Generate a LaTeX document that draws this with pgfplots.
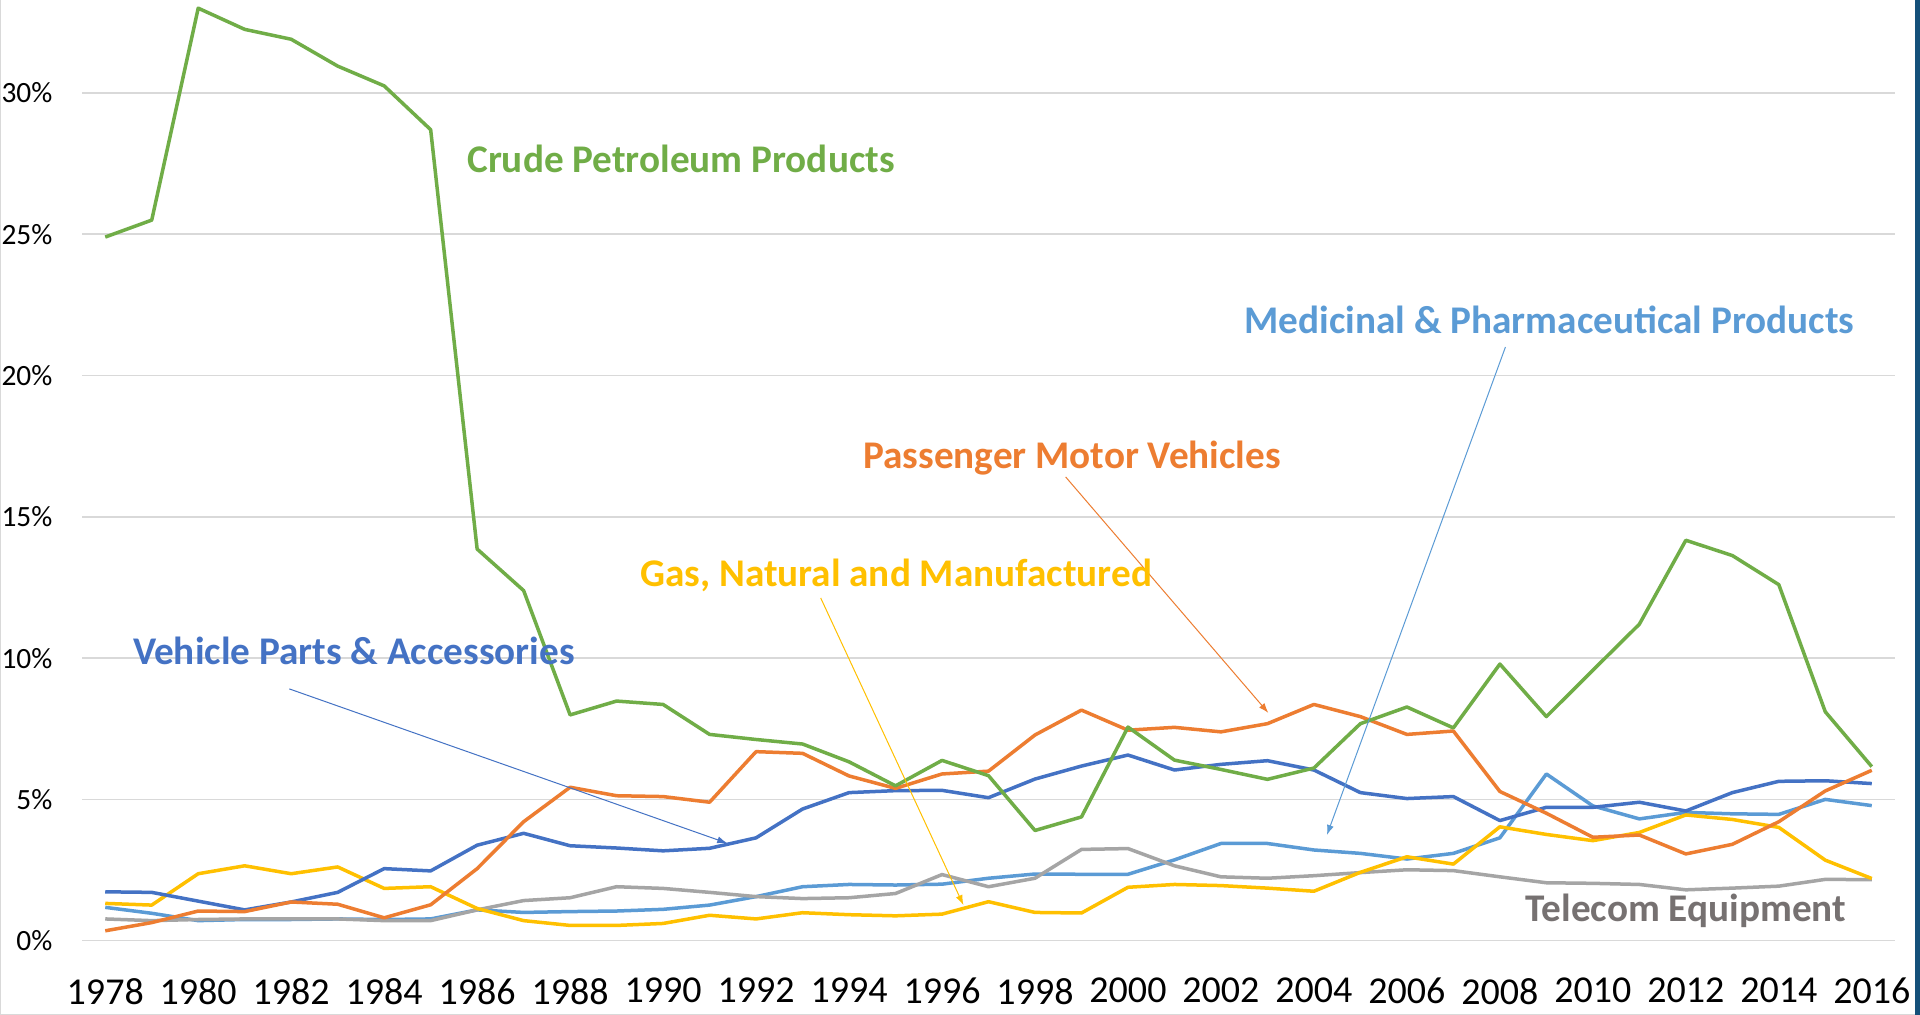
\documentclass[border=0pt]{standalone}
\usepackage{fontspec}
\setmainfont{Carlito}
\usepackage{pgfplots}
\pgfplotsset{compat=1.18}
\usepackage{pgfplotstable}
\usetikzlibrary{arrows.meta}
\definecolor{cGreen}{HTML}{70AD47}
\definecolor{cOrange}{HTML}{ED7D31}
\definecolor{cBlue}{HTML}{4472C4}
\definecolor{cGray}{HTML}{A5A5A5}
\definecolor{cLBlue}{HTML}{5B9BD5}
\definecolor{cGold}{HTML}{FFC000}
\definecolor{cText}{HTML}{767171}
\definecolor{cGrid}{HTML}{D9D9D9}
\definecolor{cBar}{HTML}{14507A}

\pgfplotstableread{
year crude pass parts telecom med gas
1978 24.9 0.35 1.73 0.77 1.18 1.32
1979 25.5 0.64 1.71 0.71 0.97 1.26
1980 33.0 1.05 1.40 0.75 0.71 2.37
1981 32.25 1.03 1.09 0.77 0.75 2.65
1982 31.9 1.37 1.37 0.77 0.75 2.37
1983 30.95 1.29 1.71 0.77 0.77 2.61
1984 30.25 0.81 2.55 0.71 0.75 1.85
1985 28.7 1.27 2.47 0.71 0.77 1.91
1986 13.86 2.55 3.38 1.09 1.09 1.14
1987 12.39 4.21 3.80 1.42 1.00 0.71
1988 7.99 5.43 3.36 1.52 1.03 0.54
1989 8.48 5.13 3.28 1.91 1.05 0.54
1990 8.36 5.10 3.18 1.85 1.11 0.61
1991 7.30 4.90 3.27 1.71 1.26 0.90
1992 7.12 6.69 3.64 1.56 1.56 0.77
1993 6.96 6.63 4.66 1.49 1.91 0.99
1994 6.33 5.83 5.24 1.52 1.99 0.92
1995 5.48 5.39 5.31 1.67 1.97 0.88
1996 6.38 5.90 5.32 2.34 2.00 0.94
1997 5.84 6.00 5.06 1.91 2.21 1.38
1998 3.90 7.28 5.72 2.21 2.36 1.00
1999 4.38 8.16 6.18 3.23 2.35 0.98
2000 7.56 7.45 6.57 3.26 2.35 1.89
2001 6.39 7.55 6.04 2.65 2.86 1.99
2002 6.06 7.39 6.24 2.26 3.44 1.95
2003 5.71 7.68 6.37 2.21 3.44 1.86
2004 6.11 8.36 6.04 2.30 3.21 1.75
2005 7.68 7.93 5.24 2.41 3.09 2.42
2006 8.27 7.30 5.03 2.51 2.89 2.97
2007 7.53 7.42 5.10 2.48 3.09 2.71
2008 9.79 5.28 4.25 2.26 3.64 4.03
2009 7.93 4.51 4.72 2.05 5.90 3.76
2010 9.57 3.66 4.72 2.03 4.77 3.54
2011 11.2 3.74 4.90 1.99 4.31 3.83
2012 14.17 3.07 4.59 1.80 4.54 4.45
2013 13.63 3.41 5.24 1.86 4.49 4.29
2014 12.6 4.21 5.64 1.93 4.47 4.01
2015 8.10 5.30 5.66 2.17 5.00 2.85
2016 6.16 6.03 5.56 2.16 4.78 2.20
}\datatable

\begin{document}
\begin{tikzpicture}[x=1pt,y=1pt]
\path[use as bounding box] (-41,-37.15) rectangle (919,470.35);
\fill[white] (-41,-37.15) rectangle (919,470.35);
\fill[cBar] (916.5,-37.15) rectangle (919,470.35);
\draw[black!15, line width=0.5pt] (-40.75,470.35) -- (-40.75,-36.9) -- (916.5,-36.9);
\begin{axis}[
  at={(0,0)}, anchor=south west,
  scale only axis, width=906.5pt, height=470.35pt,
  xmin=1977.5, xmax=2016.5, ymin=0, ymax=33.29,
  clip=false,
  axis line style={draw=none},
  major tick length=0pt,
  ymajorgrids, grid style={cGrid, line width=0.75pt},
  xtick={1978,1980,...,2016},
  ytick={0,5,...,30},
  /pgf/number format/assume math mode=true,
  /pgf/number format/1000 sep={},
  xticklabel style={font=\fontsize{19}{22}\selectfont, anchor=north, inner sep=0pt, yshift=-18.6pt},
  yticklabel style={font=\fontsize{14.7}{17}\selectfont, anchor=east, inner sep=0pt, xshift=-14.6pt},
  yticklabel={\pgfmathprintnumber{\tick}\%},
  every axis plot/.append style={line width=1.75pt, line join=round, no markers},
]
\addplot[cLBlue] table[x=year,y=med] {\datatable};
\addplot[cGray] table[x=year,y=telecom] {\datatable};
\addplot[cGold] table[x=year,y=gas] {\datatable};
\addplot[cBlue] table[x=year,y=parts] {\datatable};
\addplot[cOrange] table[x=year,y=pass] {\datatable};
\addplot[cGreen] table[x=year,y=crude] {\datatable};

\draw[cBlue, line width=0.5pt, -{Latex[length=5pt,width=3.5pt]}] (axis cs:1981.96,8.91) -- (axis cs:1991.38,3.45);
\draw[cGold, line width=0.5pt, -{Latex[length=5pt,width=3.5pt]}] (axis cs:1993.39,12.13) -- (axis cs:1996.46,1.26);
\draw[cOrange, line width=0.5pt, -{Latex[length=5pt,width=3.5pt]}] (axis cs:1998.66,16.41) -- (axis cs:2003.02,8.06);
\draw[cLBlue, line width=0.5pt, -{Latex[length=5pt,width=3.5pt]}] (axis cs:2008.12,21.01) -- (axis cs:2004.28,3.74);

\begin{scope}[every node/.style={inner sep=0pt, anchor=base west, font=\fontsize{19.6}{23}\selectfont\bfseries}]
\node[text=cGreen] at (axis cs:1985.78,27.20) {Crude Petroleum Products};
\node[text=cBlue] at (axis cs:1978.59,9.79) {Vehicle Parts \& Accessories};
\node[text=cGold] at (axis cs:1989.50,12.55) {Gas, Natural and Manufactured};
\node[text=cOrange] at (axis cs:1994.30,16.70) {Passenger Motor Vehicles};
\node[text=cLBlue] at (axis cs:2002.50,21.49) {Medicinal \& Pharmaceutical Products};
\node[text=cText] at (axis cs:2008.55,0.67) {Telecom Equipment};
\end{scope}
\end{axis}
\end{tikzpicture}
\end{document}
